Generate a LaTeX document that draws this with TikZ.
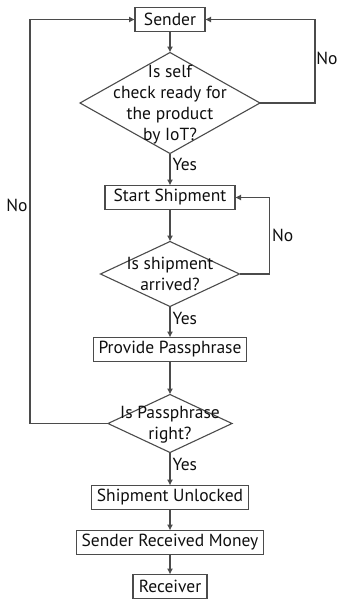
\documentclass[tikz,border=0pt]{standalone}
\usepackage{fontspec}
\setmainfont{PT Sans}
\usetikzlibrary{arrows.meta,positioning,shapes.geometric}
\definecolor{flowline}{RGB}{75,75,75}
\definecolor{flowtext}{RGB}{15,15,15}
\newcommand{\dtext}[1]{\makebox[0pt]{\raisebox{-6pt}{\begin{tabular}[c]{@{}c@{}}#1\end{tabular}}}}

\begin{document}
\begin{tikzpicture}[
  x=1pt,y=-1pt,
  font=\fontsize{17.5}{21}\selectfont,
  every node/.style={text=flowtext},
  stepbox/.style={rectangle,draw=flowline,line width=1.1pt,minimum height=24pt,
    inner xsep=5pt,inner ysep=0pt,outer sep=0pt},
  ask/.style={diamond,draw=flowline,line width=1.1pt,inner sep=0pt,outer sep=0pt,
    text height=0pt,text depth=0pt},
  arr/.style={-{Latex[length=6pt,width=6pt]},line width=1.1pt,draw=flowline},
  lbl/.style={inner sep=2pt}
]
\useasboundingbox (0,0) rectangle (337,600);
\node[stepbox,minimum width=70pt] (sender) at (170,19.5) {Sender};
\node[ask,minimum width=180pt,minimum height=101pt,below=21pt of sender] (check)
  {\dtext{Is self\\check ready for\\the product\\by IoT?}};
\node[stepbox,minimum width=130pt,below=32pt of check] (start) {Start Shipment};
\node[ask,minimum width=139pt,minimum height=65pt,below=32pt of start] (arrived)
  {\dtext{Is shipment\\arrived?}};
\node[stepbox,minimum width=153pt,below=31pt of arrived] (pass) {Provide Passphrase};
\node[ask,minimum width=124pt,minimum height=58pt,below=33pt of pass] (right)
  {\dtext{Is Passphrase\\right?}};
\node[stepbox,minimum width=152pt,below=33pt of right] (unlocked) {Shipment Unlocked};
\node[stepbox,minimum width=187pt,below=21pt of unlocked] (money) {Sender Received Money};
\node[stepbox,minimum width=74pt,below=20pt of money] (receiver) {Receiver};

\draw[arr] (sender) -- (check);
\draw[arr] (check) -- node[lbl,right,pos=0.35] {Yes} (start);
\draw[arr] (check.east) -- ++(55,0) |- node[lbl,right,pos=0.27,inner xsep=0.8pt] {No} (sender.east);
\draw[arr] (start) -- (arrived);
\draw[arr] (arrived) -- node[lbl,right,pos=0.4] {Yes} (pass);
\draw[arr] (arrived.east) -- ++(30,0) |- node[lbl,right,pos=0.25] {No} (start.east);
\draw[arr] (pass) -- (right);
\draw[arr] (right) -- node[lbl,right,pos=0.35] {Yes} (unlocked);
\draw[arr] (right.west) -- ++(-78,0) |- node[lbl,left,pos=0.27] {No} (sender.west);
\draw[arr] (unlocked) -- (money);
\draw[arr] (money) -- (receiver);
\end{tikzpicture}
\end{document}
